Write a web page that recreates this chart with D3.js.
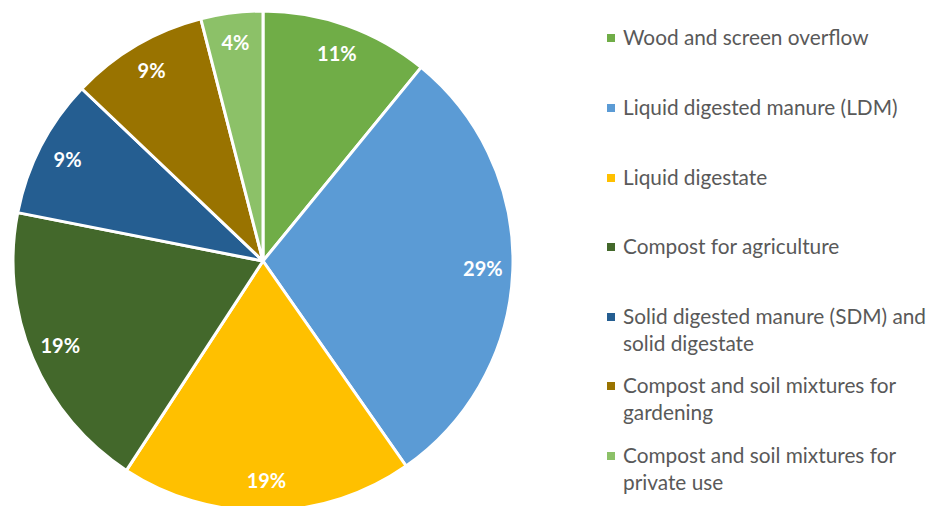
<!DOCTYPE html>
<html>
<head>
<meta charset="utf-8">
<script src="https://cdn.jsdelivr.net/npm/d3@7"></script>
<style>
  body { margin: 0; background: #fff; }
  text { font-family: Lato, "Open Sans", sans-serif; }
</style>
</head>
<body>
<div id="chart"></div>
<script>
// chart data
var categories = ["Wood and screen overflow", "Liquid digested manure (LDM)", "Liquid digestate",
  "Compost for agriculture", "Solid digested manure (SDM) and solid digestate",
  "Compost and soil mixtures for gardening", "Compost and soil mixtures for private use"];
var shares = [10.9, 29.4, 18.9, 18.9, 9.0, 8.9, 4.0];
var colors = ["#70ad47", "#5b9bd5", "#ffc000", "#43682b", "#255e91", "#997300", "#8cc168"];

var W = 932, H = 506;
var cx = 263, cy = 261, R = 250;

var svg = d3.select("#chart").append("svg")
  .attr("width", W).attr("height", H);

var pie = d3.pie().sort(null).value(function (d) { return d; });
var arcs = pie(shares);
var arc = d3.arc().innerRadius(0).outerRadius(R);
var labelArc = d3.arc().innerRadius(220).outerRadius(220);

var g = svg.append("g").attr("transform", "translate(" + cx + "," + cy + ")");

g.selectAll("path").data(arcs).enter().append("path")
  .attr("d", arc)
  .attr("fill", function (d, i) { return colors[i]; })
  .attr("stroke", "#fff")
  .attr("stroke-width", 3)
  .attr("stroke-linejoin", "round");

g.selectAll("text.pct").data(arcs).enter().append("text")
  .attr("class", "pct")
  .attr("transform", function (d) { return "translate(" + labelArc.centroid(d) + ")"; })
  .attr("text-anchor", "middle")
  .attr("dy", "0.35em")
  .attr("fill", "#fff")
  .attr("font-weight", "bold")
  .attr("font-size", 20)
  .text(function (d) { return Math.round(d.value) + "%"; });

// legend
var legend = svg.append("g");
var itemY = [38, 108, 178, 247, 317, 386, 456];
var maxW = 308;

categories.forEach(function (name, i) {
  var item = legend.append("g").attr("transform", "translate(0," + itemY[i] + ")");
  item.append("rect")
    .attr("x", 607).attr("y", -4).attr("width", 8).attr("height", 8)
    .attr("fill", colors[i]);
  var t = item.append("text")
    .attr("x", 623).attr("y", 0)
    .attr("font-size", 20.8).attr("fill", "#595959");
  // wrap words into lines that fit the legend width
  var words = name.split(" "), line = [], lineNo = 0;
  var ts = t.append("tspan").attr("x", 623).attr("dy", "0.35em");
  words.forEach(function (w) {
    line.push(w);
    ts.text(line.join(" "));
    if (ts.node().getComputedTextLength() > maxW && line.length > 1) {
      line.pop();
      ts.text(line.join(" "));
      line = [w];
      lineNo++;
      ts = t.append("tspan").attr("x", 623).attr("y", lineNo * 27).attr("dy", "0.35em").text(w);
    }
  });
});
</script>
</body>
</html>
